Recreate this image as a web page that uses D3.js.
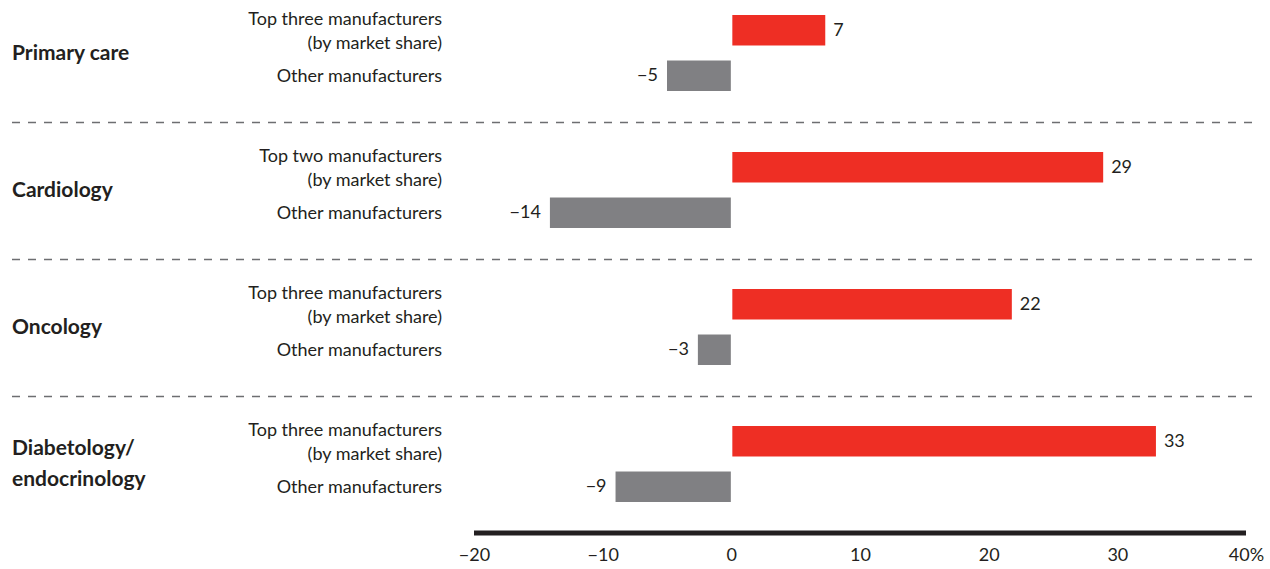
<!DOCTYPE html>
<html>
<head>
<meta charset="utf-8">
<script src="https://cdn.jsdelivr.net/npm/d3@7"></script>
<style>
  body { margin: 0; background: #fff; }
  svg { display: block; }
  text { font-family: Lato, "Open Sans", sans-serif; fill: #231f20; }
</style>
</head>
<body>
<svg id="chart" width="1270" height="569"></svg>
<script>
// ---- data ----
const groups = ["Primary care", "Cardiology", "Oncology", "Diabetology/\nendocrinology"];
const topLabels = [
  "Top three manufacturers\n(by market share)",
  "Top two manufacturers\n(by market share)",
  "Top three manufacturers\n(by market share)",
  "Top three manufacturers\n(by market share)"
];
const otherLabel = "Other manufacturers";
const topValues = [7.3, 28.9, 21.8, 33.0];
const otherValues = [-5.0, -14.1, -2.6, -9.0];
const topDisplay = ["7", "29", "22", "33"];
const otherDisplay = ["\u22125", "\u221214", "\u22123", "\u22129"];
const tickValues = [-20, -10, 0, 10, 20, 30, 40];
const tickLabels = ["\u221220", "\u221210", "0", "10", "20", "30", "40%"];

// ---- layout ----
const svg = d3.select("#chart");
const x = d3.scaleLinear().domain([-20, 40]).range([474, 1246]);
const yGroup = d3.scaleBand().domain(d3.range(groups.length)).range([-15, 533]).padding(0);
const ySub = d3.scaleBand().domain(["top", "other"]).range([30, 106]).paddingInner(0.33).paddingOuter(0);

const RED = "#ee2e24", GREY = "#808083";

// dashed separators
svg.append("g").selectAll("line")
  .data(d3.range(1, groups.length))
  .join("line")
  .attr("x1", 12).attr("x2", 1254)
  .attr("y1", d => yGroup(d) + 0.5).attr("y2", d => yGroup(d) + 0.5)
  .attr("stroke", "#6d6e71").attr("stroke-width", 1.3)
  .attr("stroke-dasharray", "8,8");

const rows = [];
groups.forEach((g, i) => {
  rows.push({ i, key: "top", value: topValues[i], disp: topDisplay[i], label: topLabels[i], color: RED });
  rows.push({ i, key: "other", value: otherValues[i], disp: otherDisplay[i], label: otherLabel, color: GREY });
});
const rowY = d => yGroup(d.i) + ySub(d.key);
const bw = ySub.bandwidth();

// bars
svg.append("g").selectAll("rect")
  .data(rows)
  .join("rect")
  .attr("x", d => d.value >= 0 ? x(0) + 1 : x(d.value))
  .attr("width", d => Math.abs(x(d.value) - x(0)) - (d.value >= 0 ? 1 : 0.5))
  .attr("y", rowY)
  .attr("height", bw)
  .attr("fill", d => d.color);

// value labels
svg.append("g").selectAll("text")
  .data(rows)
  .join("text")
  .attr("x", d => d.value >= 0 ? x(d.value) + 8 : x(d.value) - 9)
  .attr("y", d => rowY(d) + bw / 2 - 1)
  .attr("dy", "0.35em")
  .attr("text-anchor", d => d.value >= 0 ? "start" : "end")
  .attr("font-size", 18)
  .text(d => d.disp);

// row labels
const rl = svg.append("g").selectAll("text")
  .data(rows)
  .join("text")
  .attr("text-anchor", "end")
  .attr("font-size", 18)
  .attr("y", d => rowY(d) + bw / 2);
rl.each(function(d) {
  const lines = d.label.split("\n");
  const t = d3.select(this);
  lines.forEach((ln, k) => {
    t.append("tspan")
      .attr("x", 442)
      .attr("y", rowY(d) + bw / 2 + (k - (lines.length - 1) / 2) * 24)
      .attr("dy", "0.35em")
      .text(ln);
  });
});

// group labels
const gl = svg.append("g").selectAll("text")
  .data(groups)
  .join("text")
  .attr("font-size", 21)
  .attr("font-weight", "bold");
gl.each(function(g, i) {
  const lines = g.split("\n");
  const cy = yGroup(i) + yGroup.bandwidth() / 2 - 1;
  lines.forEach((ln, k) => {
    d3.select(this).append("tspan")
      .attr("x", 12)
      .attr("y", cy + (k - (lines.length - 1) / 2) * 31)
      .attr("dy", "0.35em")
      .text(ln);
  });
});

// axis
const axisG = svg.append("g").attr("transform", "translate(0,533)");
axisG.call(d3.axisBottom(x).tickValues(tickValues).tickSize(0).tickPadding(15)
  .tickFormat((d, i) => tickLabels[i]));
axisG.select(".domain").remove();
axisG.selectAll(".tick text")
  .attr("font-size", 18)
  .attr("font-family", "Lato, 'Open Sans', sans-serif")
  .attr("fill", "#231f20");
axisG.append("line")
  .attr("x1", x(-20)).attr("x2", x(40))
  .attr("y1", 0).attr("y2", 0)
  .attr("stroke", "#231f20").attr("stroke-width", 5);
</script>
</body>
</html>
